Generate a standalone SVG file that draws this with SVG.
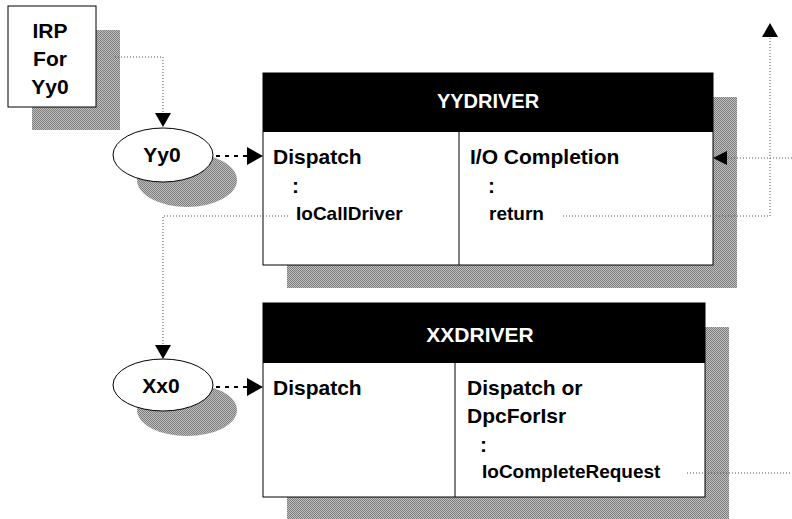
<svg xmlns="http://www.w3.org/2000/svg" width="792" height="519" viewBox="0 0 792 519">
<defs>
<pattern id="ht" width="2" height="2" patternUnits="userSpaceOnUse">
<rect width="2" height="2" fill="#bcbcbc"/>
<rect width="1" height="1" fill="#808080"/>
<rect x="1" y="1" width="1" height="1" fill="#808080"/>
</pattern>
</defs>
<style>
.t{font-family:"Liberation Sans",Arial,sans-serif;font-weight:bold;fill:#000}
.h{font-size:21px}
.s{font-size:19px}
.w{fill:#fff;font-size:20px}
.box{fill:#fff;stroke:#000;stroke-width:1}
.shadow{fill:url(#ht)}
.dot{fill:none;stroke:#555;stroke-width:1;stroke-dasharray:1 2}
.dash{fill:none;stroke:#000;stroke-width:2;stroke-dasharray:4 5}
</style>
<rect width="792" height="519" fill="#fff"/>

<g id="irp">
<rect class="shadow" x="32" y="30" width="88" height="100"/>
<rect class="box" x="8" y="6" width="88" height="101"/>
<text class="t h" x="50" y="38" text-anchor="middle">IRP</text>
<text class="t h" x="50" y="66" text-anchor="middle">For</text>
<text class="t h" x="50" y="94" text-anchor="middle">Yy0</text>
</g>

<g id="yy0">
<ellipse class="shadow" cx="187" cy="180" rx="50" ry="27"/>
<ellipse class="box" cx="163" cy="155" rx="50" ry="27"/>
<text class="t h" x="162" y="162" text-anchor="middle">Yy0</text>
</g>

<g id="xx0">
<ellipse class="shadow" cx="187" cy="410" rx="50" ry="26"/>
<ellipse class="box" cx="163" cy="385" rx="50" ry="26"/>
<text class="t h" x="161" y="393" text-anchor="middle">Xx0</text>
</g>

<g id="yydriver">
<rect class="shadow" x="287" y="97" width="450" height="191"/>
<rect class="box" x="263" y="73" width="450" height="192"/>
<rect x="263" y="73" width="450" height="59" fill="#000"/>
<line x1="459" y1="132" x2="459" y2="265" stroke="#000" stroke-width="1"/>
<text class="t w" x="488" y="108" text-anchor="middle">YYDRIVER</text>
<text class="t h" x="273" y="164">Dispatch</text>
<text class="t h" x="292" y="193">:</text>
<text class="t s" x="296" y="220">IoCallDriver</text>
<text class="t h" x="470" y="164">I/O Completion</text>
<text class="t h" x="488" y="193">:</text>
<text class="t s" x="489" y="220">return</text>
</g>

<g id="xxdriver">
<rect class="shadow" x="287" y="327" width="442" height="192"/>
<rect class="box" x="263" y="303" width="442" height="194"/>
<rect x="263" y="303" width="442" height="60" fill="#000"/>
<line x1="455" y1="363" x2="455" y2="497" stroke="#000" stroke-width="1"/>
<text class="t w" x="480" y="342" text-anchor="middle" style="font-size:21px">XXDRIVER</text>
<text class="t h" x="273" y="395">Dispatch</text>
<text class="t h" x="467" y="395">Dispatch or</text>
<text class="t h" x="467" y="423">DpcForIsr</text>
<text class="t h" x="480" y="452">:</text>
<text class="t s" x="482" y="478">IoCompleteRequest</text>
</g>

<g id="connectors">
<polyline class="dot" points="115,57 163,57 163,113"/>
<path d="M155,113 L171,113 L163,127 Z" fill="#000"/>
<line class="dash" x1="216" y1="156" x2="248" y2="156"/>
<path d="M247,147 L263,156 L247,165 Z" fill="#000"/>
<polyline class="dot" points="288,216 163,216 163,345"/>
<path d="M155,345 L171,345 L163,359 Z" fill="#000"/>
<line class="dash" x1="216" y1="387" x2="248" y2="387"/>
<path d="M247,378 L263,387 L247,396 Z" fill="#000"/>
<line class="dot" x1="792" y1="158" x2="727" y2="158"/>
<path d="M727,151 L713,158 L727,165 Z" fill="#000"/>
<polyline class="dot" points="563,216 770,216 770,36"/>
<path d="M762,37 L778,37 L770,23 Z" fill="#000"/>
<line class="dot" x1="687" y1="473" x2="792" y2="473"/>
</g>
</svg>
